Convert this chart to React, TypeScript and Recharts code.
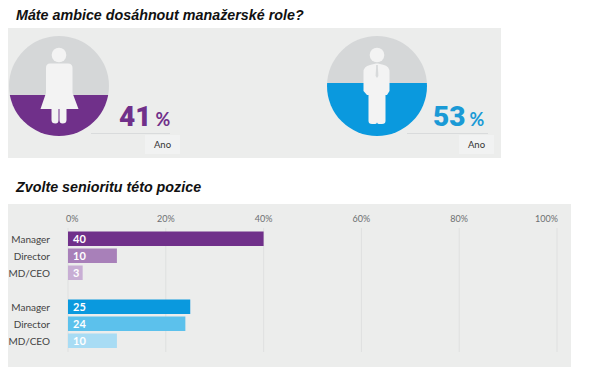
import { Bar, BarChart, CartesianGrid, Cell, LabelList, XAxis, YAxis } from 'recharts';

const ambitionTitle = 'Máte ambice dosáhnout manažerské role?';
const seniorityTitle = 'Zvolte senioritu této pozice';
const answerLabel = 'Ano';
const womenAmbition = 41;
const menAmbition = 53;

const seniorityLabels = ['Manager', 'Director', 'MD/CEO', '', 'Manager', 'Director', 'MD/CEO'];
const seniorityValues = [40, 10, 3, null, 25, 24, 10];
const seniorityColors = ['#70308a', '#a880b9', '#c8aed4', '#ffffff', '#0a99de', '#5cc1ec', '#a8dcf4'];
const percentTicks = [0, 20, 40, 60, 80, 100];

const seniorityRows = seniorityLabels.map((label, i) => ({ label, value: seniorityValues[i] }));

const FONT = 'Lato, "Open Sans", sans-serif';
const ICON = '#f3f3f3';
const PANEL = '#ecedec';

const PercentTick = ({ x, payload }: any) => {
  const v = payload.value;
  const anchor = v === 0 ? 'start' : v === 100 ? 'end' : 'middle';
  const dx = v === 0 ? -2 : v === 100 ? 1 : 0;
  return (
    <text x={x + dx} y={18} textAnchor={anchor} fontSize={9} fontFamily={FONT} fill="#6d6f71">
      {v}%
    </text>
  );
};

// kolo vyplnene zespodu podle procent
const FillCircle = ({ value, color, left }: { value: number; color: string; left: number }) => (
  <div style={{ position: 'absolute', left, top: 36, width: 100, height: 100, clipPath: 'circle(50px)' }}>
    <BarChart
      width={100}
      height={100}
      data={[{ value, rest: 100 - value }]}
      margin={{ top: 0, right: 0, bottom: 0, left: 0 }}
      barCategoryGap={0}
    >
      <XAxis hide />
      <YAxis hide domain={[0, 100]} />
      <Bar dataKey="value" stackId="a" fill={color} isAnimationActive={false} />
      <Bar dataKey="rest" stackId="a" fill="#d5d7d8" isAnimationActive={false} />
    </BarChart>
  </div>
);

const Woman = () => (
  <svg style={{ position: 'absolute', left: 0, top: 0 }} width={590} height={382}>
    <circle cx={59} cy={55} r={7.3} fill={ICON} />
    <path
      d="M50 63.5H68Q72.5 63.5 72.5 68V93L78.5 109H66.5V120Q66.5 123.5 62.5 123.5Q59.5 123.5 59.5 120V109H58.5V120Q58.5 123.5 55.5 123.5Q51.5 123.5 51.5 120V109H40.5L46 93V68Q46 63.5 50 63.5Z"
      fill={ICON}
    />
  </svg>
);

const Man = () => (
  <svg style={{ position: 'absolute', left: 0, top: 0 }} width={590} height={382}>
    <circle cx={377} cy={55} r={7.3} fill={ICON} />
    <path
      d="M370 65L376 63.5H378L384 65Q389.5 66.5 389.5 72V91L387 95H385.5V121Q385.5 124 382 124H379Q377.5 124 377 122.5Q376.5 124 375 124H372Q368.5 124 368.5 121V95H367L363.5 91V72Q363.5 66.5 370 65Z"
      fill={ICON}
    />
    <path d="M376.2 65H377.8L378.4 76L377 78L375.6 76Z" fill="#d8dadb" />
  </svg>
);

const Score = ({ value, color, left, lineLeft, lineRight, boxLeft }: any) => (
  <>
    <div
      style={{
        position: 'absolute',
        left,
        top: 99,
        fontFamily: 'Roboto, sans-serif',
        fontWeight: 900,
        fontSize: 28,
        lineHeight: '36px',
        color,
        whiteSpace: 'nowrap',
      }}
    >
      {value}
      <span style={{ fontFamily: FONT, fontSize: 18, fontWeight: 700, marginLeft: 4 }}>%</span>
    </div>
    <div style={{ position: 'absolute', left: lineLeft, width: lineRight - lineLeft, top: 133, height: 1, background: '#d9dbdc' }} />
    <div
      style={{
        position: 'absolute',
        left: boxLeft,
        top: 135,
        width: 35,
        height: 19,
        background: '#f1f2f2',
        textAlign: 'center',
        fontFamily: FONT,
        fontSize: 9.5,
        lineHeight: '19px',
        color: '#333',
      }}
    >
      {answerLabel}
    </div>
  </>
);

const titleStyle = {
  position: 'absolute',
  left: 16,
  margin: 0,
  fontFamily: '"Liberation Sans", Arial, sans-serif',
  fontWeight: 700,
  fontStyle: 'italic',
  fontSize: 14.3,
  lineHeight: '18px',
  color: '#111',
  whiteSpace: 'nowrap',
} as const;

export default function App() {
  return (
    <div style={{ position: 'absolute', left: 0, top: 0, width: 590, height: 382, background: '#fff', overflow: 'hidden' }}>
      <div style={{ ...titleStyle, top: 6 }}>{ambitionTitle}</div>
      <div style={{ ...titleStyle, top: 178 }}>{seniorityTitle}</div>

      <div style={{ position: 'absolute', left: 8, top: 28, width: 493, height: 130, background: PANEL }} />
      <FillCircle value={womenAmbition} color="#70308a" left={9} />
      <FillCircle value={menAmbition} color="#0a99de" left={327} />
      <Woman />
      <Man />
      <Score value={womenAmbition} color="#70308a" left={119} lineLeft={91} lineRight={170} boxLeft={145} />
      <Score value={menAmbition} color="#1a9ad6" left={433} lineLeft={407} lineRight={488} boxLeft={459} />

      <div style={{ position: 'absolute', left: 8, top: 204, width: 563, height: 163, background: PANEL }}>
        <BarChart
          width={563}
          height={163}
          layout="vertical"
          data={seniorityRows}
          margin={{ top: 0, right: 14, bottom: 15, left: 0 }}
          barCategoryGap={0}
          barSize={14.5}
        >
          <CartesianGrid horizontal={false} stroke="#dfe0e0" />
          <XAxis
            type="number"
            orientation="top"
            domain={[0, 100]}
            ticks={percentTicks}
            axisLine={false}
            tickLine={false}
            tick={<PercentTick />}
            height={24}
            tickMargin={0}
          />
          <YAxis
            type="category"
            dataKey="label"
            width={60}
            interval={0}
            axisLine={false}
            tickLine={false}
            tickMargin={12}
            padding={{ top: 2.5, bottom: 2.5 }}
            tick={{ fontSize: 10, fontFamily: FONT, fill: '#444' }}
          />
          <Bar dataKey="value" isAnimationActive={false}>
            {seniorityRows.map((_, i) => (
              <Cell key={i} fill={seniorityColors[i]} />
            ))}
            <LabelList
              dataKey="value"
              position="insideLeft"
              offset={5}
              fill="#fff"
              fontSize={11}
              fontWeight={700}
              fontFamily={FONT}
            />
          </Bar>
        </BarChart>
      </div>
    </div>
  );
}
